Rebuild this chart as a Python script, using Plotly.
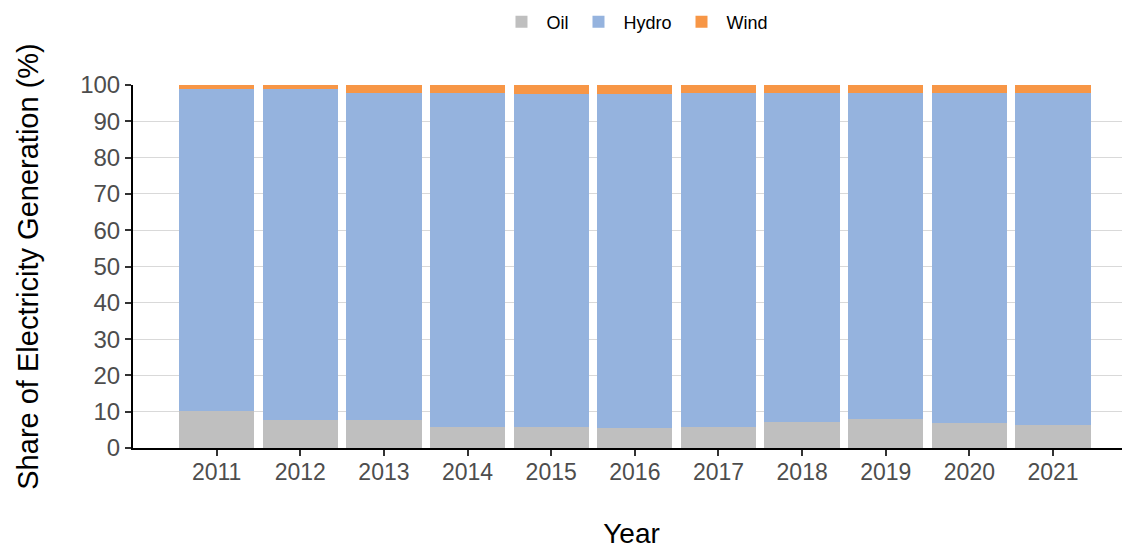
import plotly.graph_objects as go

years = [2011, 2012, 2013, 2014, 2015, 2016, 2017, 2018, 2019, 2020, 2021]
oil = [10.1, 7.6, 7.6, 5.9, 5.9, 5.4, 5.7, 7.3, 7.9, 6.8, 6.2]
hydro = [88.7, 91.2, 90.1, 92.0, 91.5, 92.0, 92.2, 90.4, 89.8, 90.9, 91.7]
wind = [1.2, 1.2, 2.3, 2.1, 2.6, 2.6, 2.1, 2.3, 2.3, 2.3, 2.1]

colors = {"Oil": "#BFBFBF", "Hydro": "#95B3DE", "Wind": "#F79646"}

fig = go.Figure()
for name, vals in [("Oil", oil), ("Hydro", hydro), ("Wind", wind)]:
    fig.add_trace(go.Bar(x=years, y=vals, name=name, marker_color=colors[name],
                         marker_line_width=0, width=0.9))

font_family = "Liberation Sans, Arial, sans-serif"
fig.update_layout(
    barmode="stack",
    width=1130, height=550,
    margin=dict(l=125, r=8, t=77, b=110, autoexpand=False),
    plot_bgcolor="white", paper_bgcolor="white",
    font=dict(family=font_family, color="#000000"),
    legend=dict(orientation="h", x=0.5035, xanchor="center", xref="paper",
                y=1.1736, yanchor="middle", yref="paper",
                font=dict(size=18, color="#000000"),
                traceorder="normal", itemwidth=40),
    showlegend=True,
)
fig.update_xaxes(
    range=[2010, 2021.92], tickvals=years, ticktext=[str(y) for y in years],
    showgrid=False, showline=True, linecolor="#000000", linewidth=2,
    ticks="outside", ticklen=6, tickwidth=2, tickcolor="#333333",
    tickfont=dict(size=23, color="#4d4d4d"), tickangle=0, ticklabelstandoff=-4,
    title=dict(text="Year", font=dict(size=28, color="#000000"), standoff=40),
    automargin=False,
)
fig.update_yaxes(
    range=[0, 100], dtick=10,
    showgrid=True, gridcolor="#d9d9d9", gridwidth=1,
    showline=True, linecolor="#000000", linewidth=2,
    ticks="outside", ticklen=6, tickwidth=2, tickcolor="#333333",
    tickfont=dict(size=24, color="#4d4d4d"),
    title=dict(text="Share of Electricity Generation (%)", font=dict(size=29, color="#000000"), standoff=33),
    zeroline=False,
    automargin=False,
)
fig.write_html("out.html")
